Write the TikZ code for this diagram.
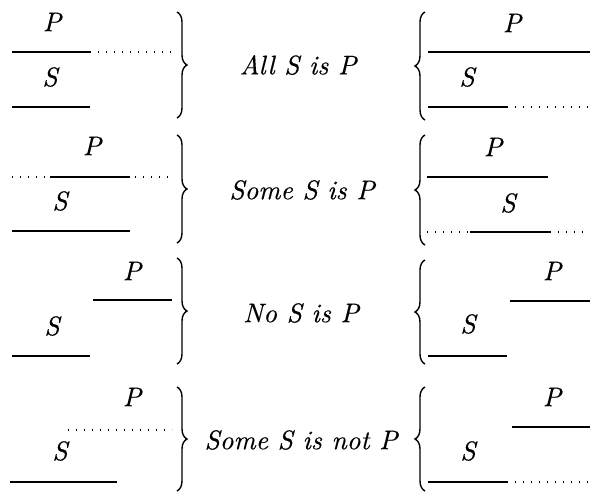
\documentclass[tikz,border=0pt]{standalone}
\usepackage{fontspec}
\newfontfamily\lmten{lmroman10-italic.otf}[FakeBold=0.3]
\usetikzlibrary{decorations.pathreplacing}
\begin{document}
\begin{tikzpicture}[x=1pt,y=-1pt,
  lbl/.style={inner sep=0pt,font=\lmten\fontsize{27}{32}\selectfont},
  solidln/.style={line width=1.4pt},
  dotln/.style={line width=1.7pt,dash pattern=on 1.4pt off 6.6pt},
  rbrace/.style={decorate,decoration={brace,amplitude=10pt},line width=1.4pt},
  lbrace/.style={decorate,decoration={brace,amplitude=10pt},line width=1.4pt}]
\useasboundingbox (0,0) rectangle (590,491);
% ---------- Row 1 ----------
\node[lbl] (p1l) at (52,22) {P};
\node[lbl] (s1l) at (50,77) {S};
\draw[solidln] (12,52) -- (90,52);
\draw[dotln] (90,52) -- (173,52);
\draw[solidln] (12,107) -- (90,107);
\draw[rbrace] (177,12) -- (177,118);
\node[lbl] (t1) at (298,65) {All S is P};
\draw[lbrace] (425,120) -- (425,12);
\node[lbl] (p1r) at (512,23) {P};
\node[lbl] (s1r) at (467,77) {S};
\draw[solidln] (428,52) -- (590,52);
\draw[solidln] (428,107) -- (507,107);
\draw[dotln] (507,107) -- (590,107);
% ---------- Row 2 ----------
\node[lbl] (p2l) at (92,146) {P};
\node[lbl] (s2l) at (60,201) {S};
\draw[dotln] (12,177) -- (50,177);
\draw[solidln] (50,177) -- (130,177);
\draw[dotln] (135,177) -- (173,177);
\draw[solidln] (12,231) -- (130,231);
\draw[rbrace] (177,135) -- (177,243);
\node[lbl] (t2) at (302,190) {Some S is P};
\draw[lbrace] (425,245) -- (425,135);
\node[lbl] (p2r) at (493,147) {P};
\node[lbl] (s2r) at (508,203) {S};
\draw[solidln] (427,177) -- (548,177);
\draw[dotln] (427,232) -- (470,232);
\draw[solidln] (470,232) -- (550,232);
\draw[dotln] (550,232) -- (590,232);
% ---------- Row 3 ----------
\node[lbl] (p3l) at (132,271) {P};
\node[lbl] (s3l) at (52,326) {S};
\draw[solidln] (93,300) -- (172,300);
\draw[solidln] (12,356) -- (90,356);
\draw[rbrace] (177,258) -- (177,364);
\node[lbl] (t3) at (301,313) {No S is P};
\draw[lbrace] (425,364) -- (425,260);
\node[lbl] (p3r) at (552,271) {P};
\node[lbl] (s3r) at (468,324) {S};
\draw[solidln] (510,301) -- (590,301);
\draw[solidln] (428,356) -- (507,356);
% ---------- Row 4 ----------
\node[lbl] (p4l) at (132,397) {P};
\node[lbl] (s4l) at (60,451) {S};
\draw[dotln] (68,430) -- (172,430);
\draw[solidln] (10,482) -- (117,482);
\draw[rbrace] (177,387) -- (177,491);
\node[lbl] (t4) at (301,440) {Some S is not P};
\draw[lbrace] (425,491) -- (425,387);
\node[lbl] (p4r) at (552,397) {P};
\node[lbl] (s4r) at (468,451) {S};
\draw[solidln] (512,427) -- (590,427);
\draw[solidln] (428,482) -- (507,482);
\draw[dotln] (507,482) -- (590,482);
\end{tikzpicture}
\end{document}
